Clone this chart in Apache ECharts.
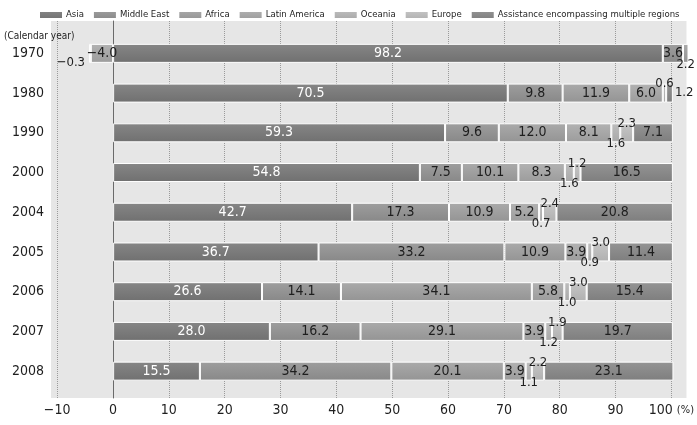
<!DOCTYPE html>
<html>
<head>
<meta charset="utf-8">
<script src="https://cdn.jsdelivr.net/npm/echarts@6/dist/echarts.min.js"></script>
<style>
  html, body { margin: 0; padding: 0; background: #fff; }
  #chart { width: 697px; height: 425px; }
</style>
</head>
<body>
<div id="chart"></div>
<script>
// share of bilateral ODA by region (%), calendar year
const years = ['1970', '1980', '1990', '2000', '2004', '2005', '2006', '2007', '2008'];
const asia = [98.2, 70.5, 59.3, 54.8, 42.7, 36.7, 26.6, 28.0, 15.5];
const middleEast = [3.6, 9.8, 9.6, 7.5, 17.3, 33.2, 14.1, 16.2, 34.2];
const africa = [2.2, 11.9, 12.0, 10.1, 10.9, 10.9, 34.1, 29.1, 20.1];
const latinAmerica = [-4.0, 6.0, 8.1, 8.3, 5.2, 3.9, 5.8, 3.9, 3.9];
const oceania = [0.0, 0.6, 1.6, 1.6, 0.7, 0.9, 1.0, 1.2, 1.1];
const europe = [-0.3, null, 2.3, 1.2, 2.4, 3.0, 3.0, 1.9, 2.2];
const multiRegion = [0.3, 1.2, 7.1, 16.5, 20.8, 11.4, 15.4, 19.7, 23.1];
const tickValues = [-10, 0, 10, 20, 30, 40, 50, 60, 70, 80, 90, 100];

const FONT = '"Liberation Sans Narrow", "DejaVu Sans Condensed", sans-serif';
const TEXT = '#1e1e1e';

function grey(v) {
  v = Math.max(0, Math.min(255, Math.round(v)));
  const h = v.toString(16).padStart(2, '0');
  return '#' + h + h + h;
}
function barColor(base) {
  return new echarts.graphic.LinearGradient(0, 0, 0, 1, [
    { offset: 0, color: grey(base + 12) },
    { offset: 1, color: grey(base - 10) }
  ]);
}
const fmt = v => (v < 0 ? '\u2212' + Math.abs(v).toFixed(1) : v.toFixed(1));

// where the value label sits for one segment
function labelFor(key, v, i) {
  // a zero share has no segment of its own, ECharts would park it on the negative side
  if (v === 0) return { show: false };
  const base = { show: true, fontFamily: FONT, fontSize: 14, color: TEXT, formatter: fmt(v) };
  if (Math.abs(v) >= 3.5) {
    return Object.assign(base, { position: 'inside', color: key === 'asia' ? '#fff' : TEXT });
  }
  base.fontSize = 13;
  if (key === 'multi') return Object.assign(base, { position: 'right', distance: 2 });
  if (v < 0) return Object.assign(base, { position: 'left', distance: 4, offset: [0, 9] });
  if (key === 'europe') return Object.assign(base, { position: 'top', distance: -7 });
  if (key === 'oceania' && !(europe[i] > 0)) return Object.assign(base, { position: 'top', distance: -7 });
  return Object.assign(base, { position: 'bottom', distance: -5 });
}

const seriesDefs = [
  ['asia', 'Asia', asia, 0x7a],
  ['me', 'Middle East', middleEast, 0x92],
  ['africa', 'Africa', africa, 0x9e],
  ['latam', 'Latin America', latinAmerica, 0xa6],
  ['oceania', 'Oceania', oceania, 0xb2],
  ['europe', 'Europe', europe, 0xba],
  ['multi', 'Assistance encompassing multiple regions', multiRegion, 0x88]
];

const series = seriesDefs.map(([key, name, values, base]) => ({
  name: name,
  type: 'bar',
  stack: 'total',
  xAxisIndex: 0,
  yAxisIndex: 0,
  barWidth: 19,
  itemStyle: { color: barColor(base), borderColor: '#fff', borderWidth: 1 },
  emphasis: { disabled: true },
  data: values.map((v, i) => (v === null ? null : { value: v, label: labelFor(key, v, i) }))
}));

const chart = echarts.init(document.getElementById('chart'));
chart.setOption({
  animation: false,
  title: {
    text: '(Calendar year)',
    left: -1,
    top: 26,
    textStyle: { fontFamily: FONT, fontSize: 10, fontWeight: 'normal', color: TEXT }
  },
  legend: {
    left: 38,
    top: 10,
    width: 700,
    padding: 0,
    itemWidth: 24,
    itemHeight: 8,
    itemGap: 8,
    icon: 'rect',
    selectedMode: false,
    textStyle: { fontFamily: FONT, fontSize: 9.5, color: TEXT, padding: [0, 0, 0, -2] },
    data: seriesDefs.map(d => d[1])
  },
  grid: [
    { left: 51, right: 9, top: 33.5, bottom: 34 },
    { left: 51, right: 9, top: 21, bottom: 27, show: true, backgroundColor: '#e6e6e6', borderWidth: 0 }
  ],
  xAxis: [
    { type: 'value', gridIndex: 0, min: -11.1, max: 102.7, show: false },
    {
      type: 'value',
      gridIndex: 1,
      min: -11.1,
      max: 102.7,
      axisLine: { show: false },
      axisTick: { show: false, customValues: tickValues },
      splitLine: { show: true, lineStyle: { color: '#9a9a9a', type: 'dotted', width: 1 } },
      axisLabel: {
        customValues: tickValues,
        margin: 5,
        fontFamily: FONT,
        fontSize: 14,
        color: TEXT,
        formatter: v => (v < 0 ? '\u2212' + Math.abs(v) : v === 100 ? '100 {u|(%)}' : String(v)),
        rich: { u: { fontFamily: FONT, fontSize: 11, color: TEXT } }
      }
    }
  ],
  yAxis: [
    {
      type: 'category',
      gridIndex: 0,
      inverse: true,
      data: years,
      axisLine: { show: false },
      axisTick: { show: false },
      axisLabel: { margin: 7, fontFamily: FONT, fontSize: 14, color: TEXT }
    },
    {
      type: 'value',
      gridIndex: 1,
      min: 0,
      max: 1,
      axisLine: { show: true, onZero: true, lineStyle: { color: '#6a6a6a', width: 1 } },
      axisTick: { show: false },
      axisLabel: { show: false },
      splitLine: { show: false }
    }
  ],
  series: series
});
</script>
</body>
</html>
